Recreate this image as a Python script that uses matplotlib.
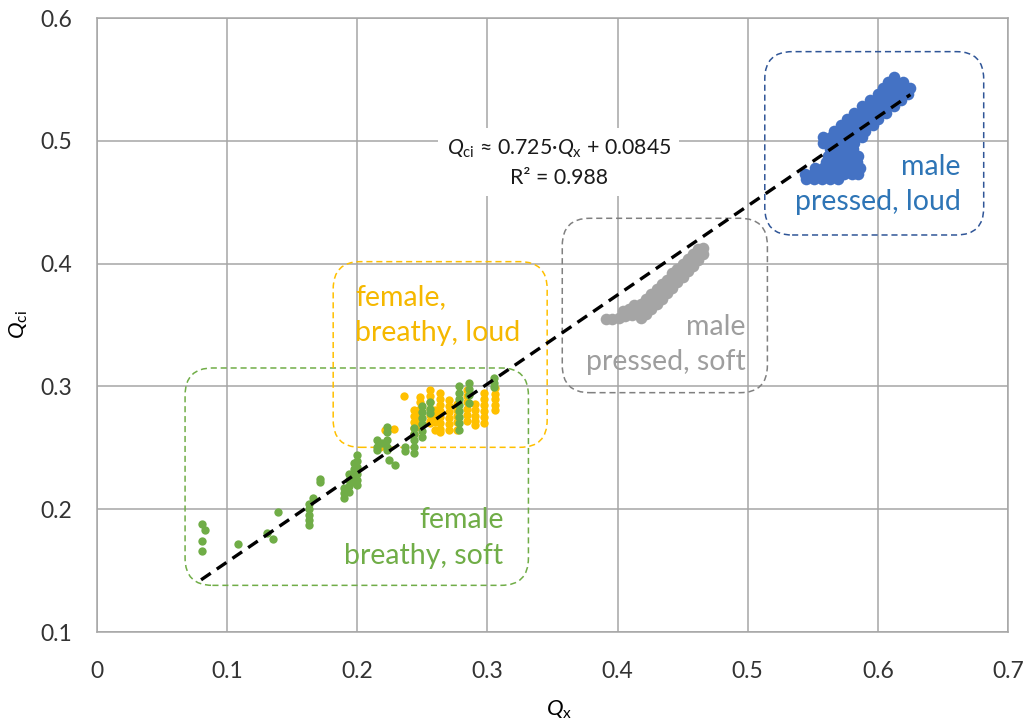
import matplotlib
matplotlib.use("Agg")
import matplotlib.pyplot as plt
from matplotlib import font_manager as fm
from matplotlib.patches import FancyBboxPatch


def pick_italic(cands):
    # first family that really ships an italic face
    for fam in cands:
        if any(f.name == fam and f.style in ('italic', 'oblique')
               for f in fm.fontManager.ttflist):
            return fam
    return 'DejaVu Sans'


base_font = 'Lato'
it_font = pick_italic(['Lato', 'Open Sans', 'Noto Sans', 'Roboto', 'Inter',
                       'Liberation Sans', 'DejaVu Sans'])

plt.rcParams['font.family'] = [base_font, 'DejaVu Sans']
plt.rcParams['mathtext.fontset'] = 'custom'
plt.rcParams['mathtext.rm'] = base_font
plt.rcParams['mathtext.it'] = it_font + ':italic'
plt.rcParams['mathtext.default'] = 'it'

# female, breathy, soft (green)
green_x = [0.081, 0.083, 0.081, 0.081, 0.108, 0.131, 0.135, 0.139,
           0.163, 0.163, 0.163, 0.163, 0.163, 0.166,
           0.1715, 0.1715,
           0.1895, 0.1895, 0.1895,
           0.1936, 0.1936, 0.1936, 0.1936,
           0.1974, 0.1974, 0.1974, 0.1974,
           0.200, 0.200, 0.200, 0.200, 0.200, 0.200,
           0.215, 0.215, 0.215, 0.219,
           0.2228, 0.2228, 0.2228, 0.2228, 0.2228, 0.2244, 0.229,
           0.237, 0.237,
           0.2433, 0.2433, 0.2433, 0.2433, 0.2433,
           0.2497, 0.2497, 0.2497, 0.2497, 0.2497, 0.2497,
           0.2562, 0.2562, 0.2562,
           0.278, 0.278, 0.278, 0.278, 0.278, 0.278, 0.278, 0.278,
           0.2856, 0.2856, 0.2856, 0.2856,
           0.305, 0.305, 0.305]
green_y = [0.188, 0.183, 0.174, 0.166, 0.172, 0.181, 0.176, 0.198,
           0.187, 0.191, 0.195, 0.200, 0.204, 0.209,
           0.225, 0.222,
           0.217, 0.213, 0.209,
           0.229, 0.224, 0.219, 0.214,
           0.238, 0.233, 0.228, 0.222,
           0.244, 0.239, 0.234, 0.229, 0.224, 0.220,
           0.256, 0.251, 0.248, 0.254,
           0.267, 0.263, 0.256, 0.251, 0.248, 0.240, 0.236,
           0.251, 0.247,
           0.266, 0.261, 0.256, 0.251, 0.246,
           0.284, 0.279, 0.274, 0.269, 0.264, 0.259,
           0.287, 0.282, 0.278,
           0.300, 0.295, 0.290, 0.285, 0.280, 0.275, 0.270, 0.2646,
           0.3025, 0.298, 0.293, 0.2862,
           0.3066, 0.303, 0.2998]

# female, breathy, loud (yellow)
yellow_x = [0.2356, 0.2215, 0.2285, 0.2177,
            0.2433, 0.2433, 0.2433, 0.2433, 0.2433,
            0.2485, 0.2485, 0.2485, 0.2485, 0.2485, 0.2485,
            0.2562, 0.2562, 0.2562, 0.2562, 0.2562, 0.2562, 0.2562,
            0.260, 0.260, 0.260, 0.260,
            0.2638, 0.2638, 0.2638, 0.2638, 0.2638, 0.2638, 0.2638, 0.2638,
            0.2702, 0.2702, 0.2702, 0.2702, 0.2702, 0.2702,
            0.2767, 0.2767, 0.2767, 0.2767, 0.2767,
            0.2844, 0.2844, 0.2844, 0.2844, 0.2844, 0.2844,
            0.2908, 0.2908, 0.2908, 0.2908, 0.2908,
            0.2972, 0.2972, 0.2972, 0.2972, 0.2972, 0.2972,
            0.306, 0.306, 0.306, 0.306, 0.306]
yellow_y = [0.2922, 0.2645, 0.265, 0.251,
            0.2808, 0.276, 0.271, 0.266, 0.2615,
            0.2916, 0.287, 0.282, 0.277, 0.272, 0.267,
            0.297, 0.292, 0.287, 0.282, 0.277, 0.272, 0.270,
            0.281, 0.276, 0.271, 0.2645,
            0.2944, 0.290, 0.285, 0.280, 0.275, 0.270, 0.265, 0.263,
            0.289, 0.284, 0.279, 0.274, 0.269, 0.2645,
            0.286, 0.281, 0.276, 0.271, 0.2645,
            0.297, 0.292, 0.287, 0.282, 0.277, 0.272,
            0.286, 0.281, 0.276, 0.2715, 0.2686,
            0.2945, 0.290, 0.285, 0.280, 0.275, 0.270,
            0.2985, 0.294, 0.290, 0.285, 0.2808]

# male, pressed, soft (grey)
grey_x = [0.391, 0.396, 0.401, 0.406, 0.411, 0.416, 0.404, 0.409, 0.413,
          0.418, 0.418, 0.418, 0.422, 0.422, 0.422, 0.426, 0.426, 0.426,
          0.430, 0.430, 0.430, 0.434, 0.434, 0.434, 0.438, 0.438, 0.438,
          0.442, 0.442, 0.442, 0.446, 0.446, 0.446, 0.450, 0.450, 0.450,
          0.454, 0.454, 0.454, 0.458, 0.458, 0.458, 0.462, 0.462, 0.462,
          0.466, 0.466]
grey_y = [0.355, 0.355, 0.356, 0.357, 0.358, 0.359, 0.361, 0.363, 0.366,
          0.356, 0.362, 0.367, 0.359, 0.365, 0.371, 0.363, 0.369, 0.375,
          0.367, 0.373, 0.379, 0.371, 0.377, 0.383, 0.376, 0.382, 0.387,
          0.380, 0.386, 0.392, 0.385, 0.391, 0.396, 0.389, 0.395, 0.400,
          0.394, 0.399, 0.404, 0.398, 0.403, 0.408, 0.403, 0.408, 0.412,
          0.408, 0.413]

# male, pressed, loud (blue)
blue_x = [0.545, 0.551, 0.557, 0.563, 0.569,
          0.544, 0.550, 0.556, 0.562, 0.568, 0.574, 0.580, 0.585,
          0.552, 0.558, 0.564, 0.570, 0.576, 0.582, 0.586,
          0.560, 0.566, 0.572, 0.578, 0.584,
          0.562, 0.568, 0.574, 0.580, 0.585,
          0.563, 0.569, 0.575, 0.581,
          0.558, 0.564, 0.570, 0.576, 0.582,
          0.558, 0.564, 0.570, 0.576, 0.582, 0.588,
          0.566, 0.572, 0.578, 0.584, 0.590,
          0.572, 0.578, 0.584, 0.590, 0.596,
          0.576, 0.582, 0.588, 0.594, 0.600,
          0.582, 0.588, 0.594, 0.600, 0.606,
          0.588, 0.594, 0.600, 0.606, 0.612,
          0.594, 0.600, 0.606, 0.612, 0.618,
          0.600, 0.606, 0.612, 0.618, 0.623,
          0.604, 0.610, 0.616, 0.622, 0.625,
          0.608, 0.614, 0.619,
          0.612]
blue_y = [0.469] * 5 + [0.473] * 8 + [0.478] * 7 + [0.483] * 5 + [0.488] * 5 \
    + [0.493] * 4 + [0.498] * 5 + [0.503] * 6 + [0.508] * 5 + [0.513] * 5 \
    + [0.518] * 5 + [0.523] * 5 + [0.528] * 5 + [0.533] * 5 + [0.538] * 5 \
    + [0.543] * 5 + [0.548] * 3 + [0.552]

# linear fit shown on the chart
fit_slope = 0.725
fit_intercept = 0.0845
fit_x = [0.08, 0.625]

# group boxes: (x0, y0, x1, y1)
boxes = {
    'green': (0.0677, 0.138, 0.3315, 0.315),
    'yellow': (0.1815, 0.2504, 0.3459, 0.4016),
    'grey': (0.3575, 0.2949, 0.5151, 0.4369),
    'blue': (0.5131, 0.4233, 0.6813, 0.5726),
}
box_colors = {'green': '#70AD47', 'yellow': '#FFC000',
              'grey': '#808080', 'blue': '#2F5597'}

fig = plt.figure(figsize=(10.26, 7.2), dpi=100)
ax = fig.add_axes([0.0945, 0.1222, 0.888, 0.8528])

ax.scatter(yellow_x, yellow_y, s=36, color='#FFC000', linewidths=0, zorder=3)
ax.scatter(green_x, green_y, s=36, color='#70AD47', linewidths=0, zorder=3)
ax.scatter(grey_x, grey_y, s=70, color='#A5A5A5', linewidths=0, zorder=3)
ax.scatter(blue_x, blue_y, s=70, color='#4472C4', linewidths=0, zorder=3)

fit_y = [fit_slope * x + fit_intercept for x in fit_x]
ax.plot(fit_x, fit_y, color='black', lw=2.4, ls=(0, (3.5, 2.2)), zorder=4)

for name, (x0, y0, x1, y1) in boxes.items():
    p = FancyBboxPatch((x0, y0), x1 - x0, y1 - y0,
                       boxstyle="round,pad=0,rounding_size=0.021",
                       mutation_aspect=1.0586, fill=False,
                       edgecolor=box_colors[name], lw=1.1,
                       ls=(0, (4, 2.5)), zorder=2)
    ax.add_patch(p)

fs = 20.5
ls_grp = 1.45
ax.text(0.1985, 0.358, 'female,\nbreathy, loud', color='#F5B800',
        fontsize=fs, ha='left', va='center', linespacing=ls_grp, zorder=5)
ax.text(0.4985, 0.334, 'male\npressed, soft', color='#9E9E9E',
        fontsize=fs, ha='right', va='center', linespacing=ls_grp, zorder=5)
ax.text(0.3123, 0.1765, 'female\nbreathy, soft', color='#70AD47',
        fontsize=fs, ha='right', va='center', linespacing=ls_grp, zorder=5)
ax.text(0.6638, 0.4644, 'male\npressed, loud', color='#2E75B6',
        fontsize=fs, ha='right', va='center', linespacing=ls_grp, zorder=5)

ax.text(0.3548, 0.4823,
        r'$Q_{\mathrm{ci}}$ ≈ 0.725·$Q_{\mathrm{x}}$ + 0.0845' + '\n' + 'R² = 0.988',
        fontsize=15.3, ha='center', va='center', linespacing=1.5, zorder=5,
        color='#1A1A1A',
        bbox=dict(facecolor='white', edgecolor='none', pad=6))

ax.set_xlim(0, 0.7)
ax.set_ylim(0.1, 0.6)
ax.set_xticks([0, 0.1, 0.2, 0.3, 0.4, 0.5, 0.6, 0.7])
ax.set_xticklabels(['0', '0.1', '0.2', '0.3', '0.4', '0.5', '0.6', '0.7'])
ax.set_yticks([0.1, 0.2, 0.3, 0.4, 0.5, 0.6])
ax.set_yticklabels(['0.1', '0.2', '0.3', '0.4', '0.5', '0.6'])
ax.tick_params(length=0, labelsize=16.5, colors='#333333')
ax.tick_params(axis='x', pad=21)
ax.tick_params(axis='y', pad=18)
ax.grid(True, color='#A6A6A6', lw=1.1)
ax.set_axisbelow(True)
for sp in ax.spines.values():
    sp.set_color('#A6A6A6')
    sp.set_linewidth(1.1)

ax.set_xlabel(r'$Q_{\mathrm{x}}$', fontsize=16)
ax.set_ylabel(r'$Q_{\mathrm{ci}}$', fontsize=16)
ax.xaxis.set_label_coords(0.5075, -0.108)
ax.yaxis.set_label_coords(-0.073, 0.50)

fig.savefig('out.png', dpi=100)
